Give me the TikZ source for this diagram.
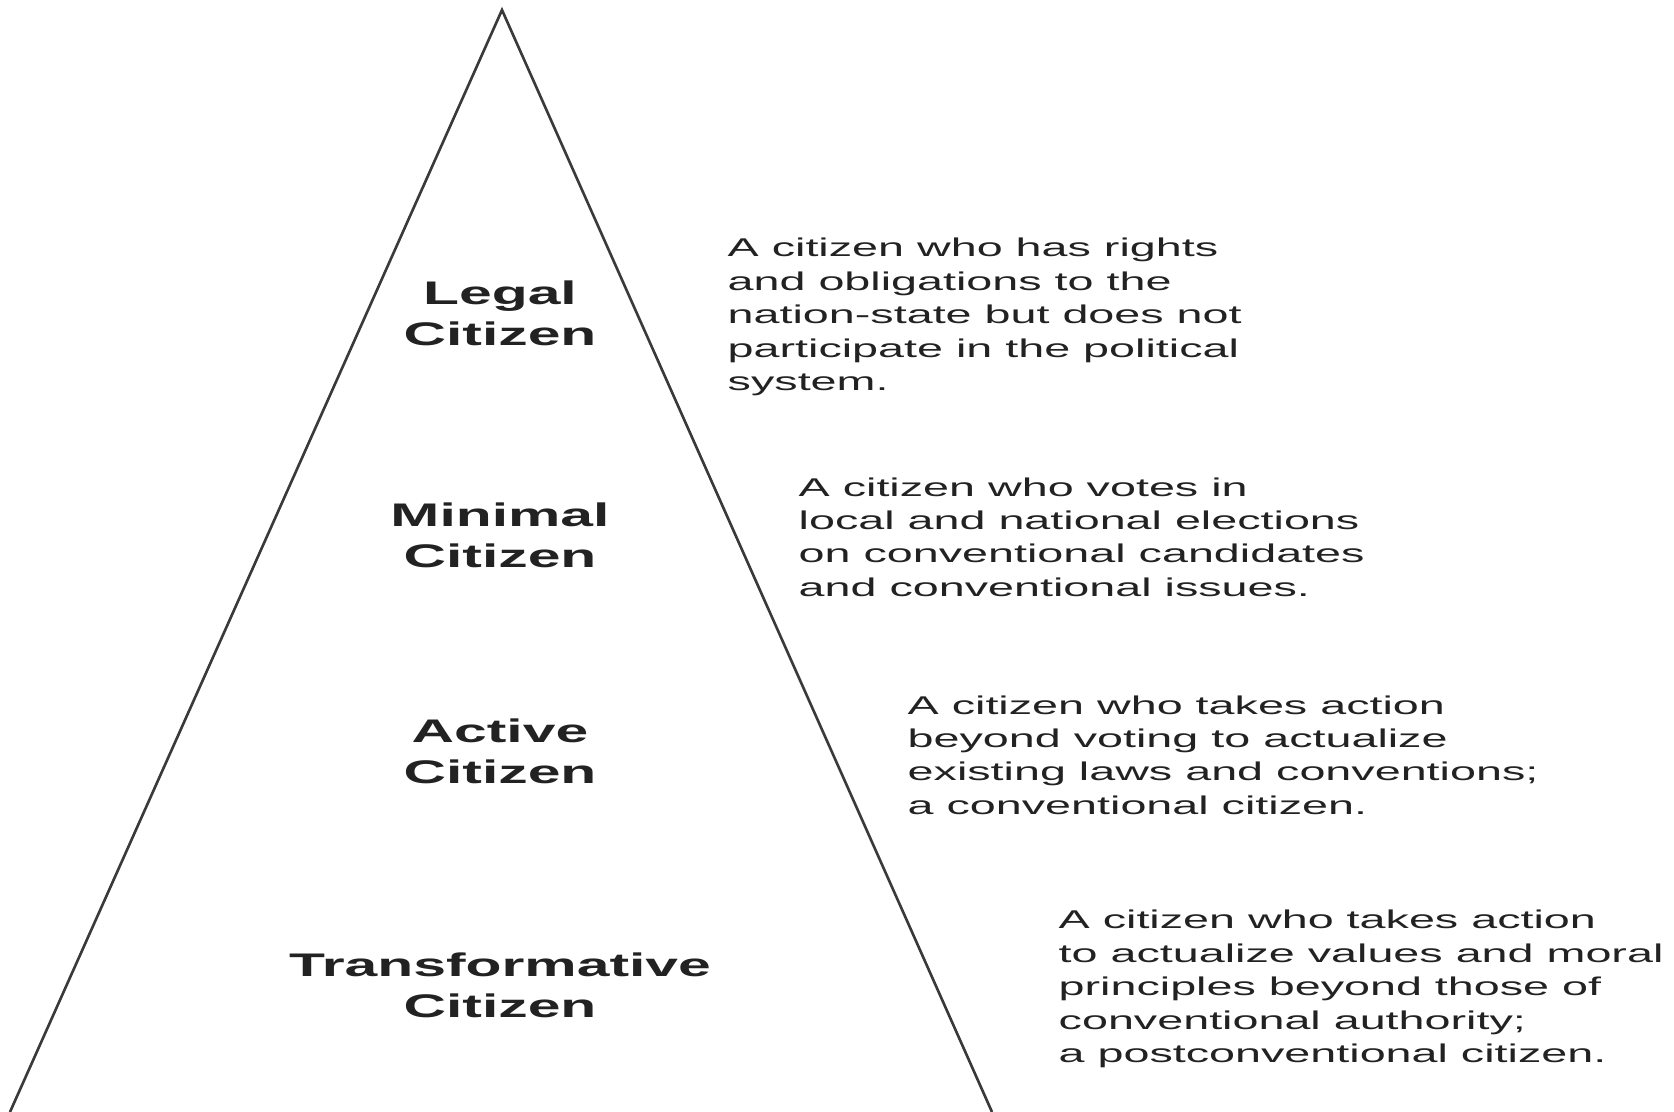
\documentclass[tikz,border=0pt]{standalone}
\usepackage{fontspec}
\usepackage{tikz}
\newfontfamily\widesans[FakeStretch=1.8]{Liberation Sans}
\newfontfamily\widersans[FakeStretch=1.82]{Liberation Sans}
\definecolor{inkgray}{HTML}{222222}
\definecolor{edgegray}{HTML}{3A3A3A}

\begin{document}
\begin{tikzpicture}[
    level/.style={align=center, inner sep=0pt, text=inkgray,
                  font=\widesans\bfseries\fontsize{9.3}{11.6}\selectfont},
    desc/.style={anchor=west, align=left, inner sep=0pt, text=inkgray,
                 font=\widersans\fontsize{7.3}{9.5}\selectfont},
    edge/.style={draw=edgegray, line width=0.75pt},
]
\useasboundingbox (0,0) rectangle (16.74,11.12);

\coordinate (apex) at (5.02,11.02);
\coordinate (baseL) at (0.10,0);
\coordinate (baseR) at (9.92,0);
\draw[edge] (baseL) -- (apex) -- (baseR);

\node[level] (legal) at (5.00,7.99) {Legal\\Citizen};
\node[level] (minimal) at (5.00,5.77) {Minimal\\Citizen};
\node[level] (active) at (5.00,3.61) {Active\\Citizen};
\node[level] (transf) at (5.00,1.27) {Transformative\\Citizen};

\node[desc] (legaldesc) at (7.27,7.95) {A citizen who has rights\\and obligations to the\\nation-state but does not\\participate in the political\\system.};
\node[desc] (minimaldesc) at (7.98,5.75) {A citizen who votes in\\local and national elections\\on conventional candidates\\and conventional issues.};
\node[desc] (activedesc) at (9.07,3.57) {A citizen who takes action\\beyond voting to actualize\\existing laws and conventions;\\a conventional citizen.};
\node[desc] (transfdesc) at (10.58,1.23) {A citizen who takes action\\to actualize values and moral\\principles beyond those of\\conventional authority;\\a postconventional citizen.};
\end{tikzpicture}
\end{document}
